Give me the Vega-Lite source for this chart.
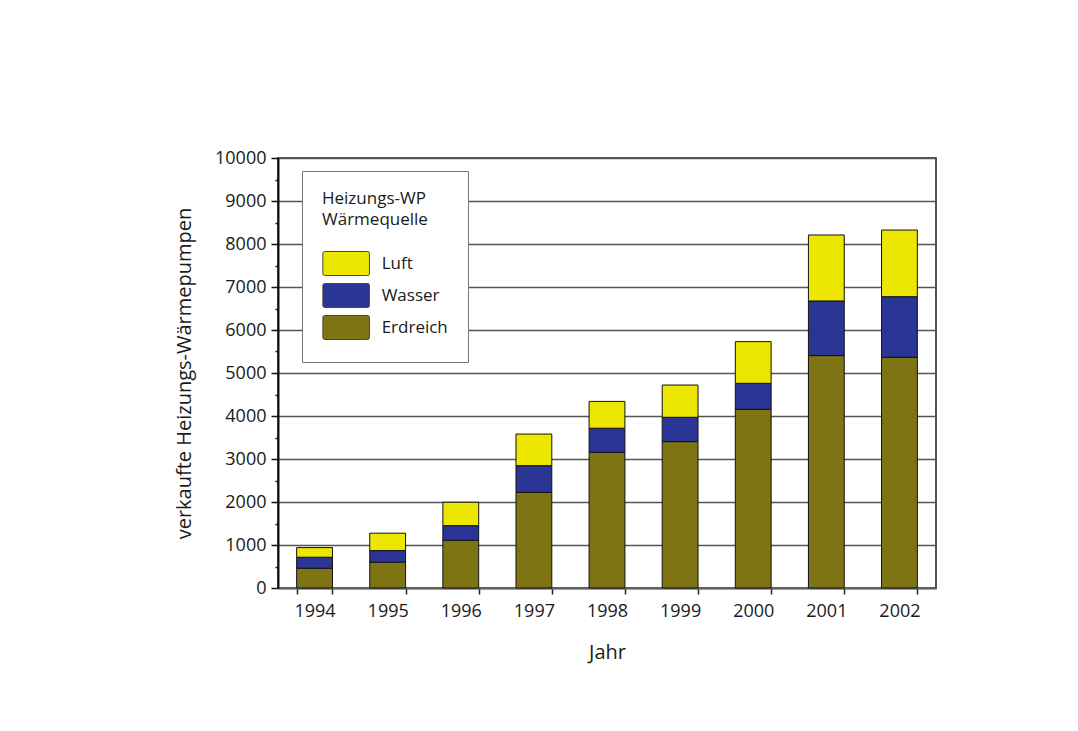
{
  "$schema": "https://vega.github.io/schema/vega-lite/v6.json",
  "autosize": "none",
  "width": 658,
  "height": 430,
  "padding": {"left": 278, "top": 158, "right": 142, "bottom": 143},
  "background": "white",
  "config": {
    "view": {"stroke": "#1a1a1a", "strokeWidth": 1.5},
    "font": "Open Sans"
  },
  "data": {
    "values": [
      {"Jahr": "1994", "Quelle": "Erdreich", "Anzahl": 460},
      {"Jahr": "1994", "Quelle": "Wasser", "Anzahl": 255},
      {"Jahr": "1994", "Quelle": "Luft", "Anzahl": 225},
      {"Jahr": "1995", "Quelle": "Erdreich", "Anzahl": 600},
      {"Jahr": "1995", "Quelle": "Wasser", "Anzahl": 270},
      {"Jahr": "1995", "Quelle": "Luft", "Anzahl": 405},
      {"Jahr": "1996", "Quelle": "Erdreich", "Anzahl": 1110},
      {"Jahr": "1996", "Quelle": "Wasser", "Anzahl": 340},
      {"Jahr": "1996", "Quelle": "Luft", "Anzahl": 545},
      {"Jahr": "1997", "Quelle": "Erdreich", "Anzahl": 2225},
      {"Jahr": "1997", "Quelle": "Wasser", "Anzahl": 620},
      {"Jahr": "1997", "Quelle": "Luft", "Anzahl": 735},
      {"Jahr": "1998", "Quelle": "Erdreich", "Anzahl": 3155},
      {"Jahr": "1998", "Quelle": "Wasser", "Anzahl": 560},
      {"Jahr": "1998", "Quelle": "Luft", "Anzahl": 625},
      {"Jahr": "1999", "Quelle": "Erdreich", "Anzahl": 3405},
      {"Jahr": "1999", "Quelle": "Wasser", "Anzahl": 565},
      {"Jahr": "1999", "Quelle": "Luft", "Anzahl": 750},
      {"Jahr": "2000", "Quelle": "Erdreich", "Anzahl": 4155},
      {"Jahr": "2000", "Quelle": "Wasser", "Anzahl": 605},
      {"Jahr": "2000", "Quelle": "Luft", "Anzahl": 970},
      {"Jahr": "2001", "Quelle": "Erdreich", "Anzahl": 5405},
      {"Jahr": "2001", "Quelle": "Wasser", "Anzahl": 1270},
      {"Jahr": "2001", "Quelle": "Luft", "Anzahl": 1535},
      {"Jahr": "2002", "Quelle": "Erdreich", "Anzahl": 5365},
      {"Jahr": "2002", "Quelle": "Wasser", "Anzahl": 1410},
      {"Jahr": "2002", "Quelle": "Luft", "Anzahl": 1550}
    ]
  },
  "transform": [
    {"calculate": "indexof(['Erdreich', 'Wasser', 'Luft'], datum.Quelle)", "as": "Schicht"}
  ],
  "mark": {"type": "bar", "stroke": "#111111", "strokeWidth": 1},
  "encoding": {
    "x": {
      "field": "Jahr",
      "type": "ordinal",
      "scale": {"paddingInner": 0.51, "paddingOuter": 0.255},
      "axis": {
        "title": "Jahr",
        "labelAngle": 0,
        "tickBand": "extent",
        "tickSize": 6,
        "tickWidth": 1.5,
        "tickColor": "#222222",
        "domainColor": "#666666",
        "domainWidth": 2,
        "labelFont": "Open Sans",
        "labelFontSize": 18,
        "labelColor": "#1a1a1a",
        "labelPadding": 8,
        "titleFont": "Open Sans",
        "titleFontSize": 20,
        "titleFontWeight": "normal",
        "titleColor": "#1a1a1a",
        "titlePadding": 22
      }
    },
    "y": {
      "field": "Anzahl",
      "type": "quantitative",
      "stack": "zero",
      "scale": {"domain": [0, 10000], "nice": false},
      "axis": {
        "title": "verkaufte Heizungs-Wärmepumpen",
        "values": [0, 500, 1000, 1500, 2000, 2500, 3000, 3500, 4000, 4500, 5000, 5500, 6000, 6500, 7000, 7500, 8000, 8500, 9000, 9500, 10000],
        "format": "d",
        "labelExpr": "datum.value % 1000 === 0 ? datum.label : ''",
        "labelOverlap": false,
        "labelFlush": false,
        "tickSize": {"condition": {"test": "datum.value % 1000 !== 0", "value": 3}, "value": 7},
        "tickColor": "#111111",
        "tickWidth": 1.5,
        "grid": true,
        "gridColor": "#555555",
        "gridWidth": 1.3,
        "gridOpacity": {"condition": {"test": "datum.value % 1000 !== 0", "value": 0}, "value": 1},
        "domainColor": "#111111",
        "domainWidth": 2,
        "labelFont": "Open Sans",
        "labelFontSize": 18,
        "labelColor": "#1a1a1a",
        "labelPadding": 5,
        "titleFont": "Open Sans",
        "titleFontSize": 20,
        "titleFontWeight": "normal",
        "titleColor": "#1a1a1a",
        "titlePadding": 20
      }
    },
    "color": {
      "field": "Quelle",
      "type": "nominal",
      "scale": {
        "domain": ["Luft", "Wasser", "Erdreich"],
        "range": ["#ece600", "#2b3595", "#7e7414"]
      },
      "legend": {
        "title": ["Heizungs-WP", "Wärmequelle"],
        "orient": "none",
        "legendX": 24,
        "legendY": 13,
        "fillColor": "white",
        "strokeColor": "#777777",
        "padding": 20,
        "titleFont": "Open Sans",
        "titleFontSize": 17,
        "titleFontWeight": "normal",
        "titleColor": "#1a1a1a",
        "titleLineHeight": 21,
        "titlePadding": 22,
        "labelFont": "Open Sans",
        "labelFontSize": 17,
        "labelColor": "#1a1a1a",
        "labelOffset": 23,
        "symbolType": "M-1.83,-1.03H1.83Q2,-1.03 2,-0.86V0.86Q2,1.03 1.83,1.03H-1.83Q-2,1.03 -2,0.86V-0.86Q-2,-1.03 -1.83,-1.03Z",
        "symbolSize": 543,
        "symbolOffset": 11.65,
        "symbolStrokeColor": "#4a4a30",
        "symbolStrokeWidth": 1,
        "symbolOpacity": 1,
        "rowPadding": 3,
        "columnPadding": 10
      }
    },
    "order": {"field": "Schicht", "type": "quantitative", "sort": "ascending"}
  }
}
